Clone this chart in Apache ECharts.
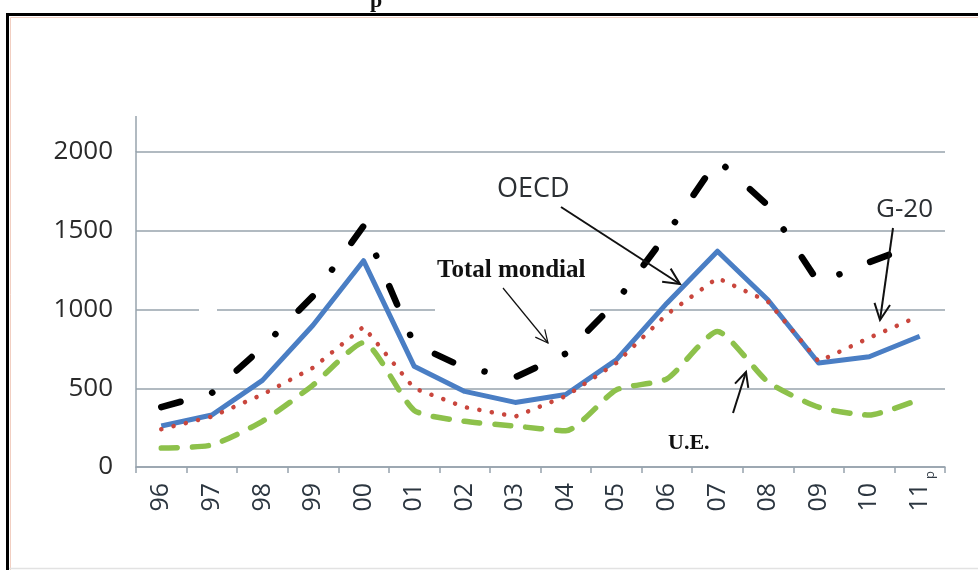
<!DOCTYPE html>
<html>
<head>
<meta charset="utf-8">
<script src="https://cdn.jsdelivr.net/npm/echarts@6/dist/echarts.min.js"></script>
<style>html,body{margin:0;padding:0;background:#fff}#c{width:978px;height:570px}</style>
</head>
<body>
<div id="c"></div>
<script>
const categories = ['96','97','98','99','00','01','02','03','04','05','06','07','08','09','10','11'];
const totalMondial = [380,470,760,1085,1530,780,630,570,720,1050,1480,1950,1660,1170,1300,1420];
const oecd = [260,330,550,900,1310,640,480,410,460,680,1040,1370,1060,660,700,830];
const g20 = [240,320,460,630,890,500,380,320,450,660,970,1200,1050,670,820,960];
const ue = [120,140,290,520,790,360,290,260,230,490,560,860,540,380,330,430];
const yTicks = [0,500,1000,1500,2000];

const axisGray = '#97a3ad';
const chart = echarts.init(document.getElementById('c'), null, {renderer:'canvas'});

function arrow(x1,y1,x2,y2,w,head){
  const a = Math.atan2(y2-y1,x2-x1);
  const s = 0.45;
  const p1 = [x2 - head*Math.cos(a-s), y2 - head*Math.sin(a-s)];
  const p2 = [x2 - head*Math.cos(a+s), y2 - head*Math.sin(a+s)];
  return [
    {type:'line', z:10, shape:{x1:x1,y1:y1,x2:x2,y2:y2}, style:{stroke:'#111',lineWidth:w}},
    {type:'polyline', z:10, shape:{points:[p1,[x2,y2],p2]}, style:{stroke:'#111',lineWidth:w,fill:null}}
  ];
}

const graphics = [
  {type:'polyline', z:0, shape:{points:[[7.5,575],[7.5,14.5],[990,14.5]]}, style:{stroke:'#000',lineWidth:3,fill:null}},
  {type:'polyline', z:0, shape:{points:[[10.5,575],[10.5,17.5],[990,17.5]]}, style:{stroke:'#f2cfc2',lineWidth:1,fill:null}},
  {type:'line', z:0, shape:{x1:9,y1:568.5,x2:978,y2:568.5}, style:{stroke:'#e2e2e2',lineWidth:1.5}},
  {type:'text', z:10, left:370, top:-10, style:{text:'p', font:'bold 22px "Liberation Serif"', fill:'#111'}},
  {type:'line', z:1, shape:{x1:136,y1:116,x2:136,y2:152}, style:{stroke:axisGray,lineWidth:1.5}},
  {type:'rect', z:1, shape:{x:199,y:303,width:18,height:14}, style:{fill:'#fff'}},
  {type:'rect', z:1, shape:{x:435,y:303,width:155,height:14}, style:{fill:'#fff'}},
  {type:'text', z:10, left:497, top:176, style:{text:'OECD', font:'27px "Open Sans"', fill:'#2b2f33'}},
  {type:'text', z:10, left:876, top:197, style:{text:'G-20', font:'26px "Open Sans"', fill:'#2b2f33'}},
  {type:'text', z:10, left:437, top:258, style:{text:'Total mondial', font:'bold 25px "Liberation Serif"', fill:'#111'}},
  {type:'text', z:10, left:668, top:432, style:{text:'U.E.', font:'bold 22px "Liberation Serif"', fill:'#111'}},
  {type:'text', z:10, left:924, top:471, rotation:Math.PI/2, style:{text:'p', font:'13px "Open Sans"', fill:'#333d47'}}
].concat(
  arrow(561,207,680,284,2,18),
  arrow(893,228,880,320,2,18),
  arrow(503,288,548,343,1.2,14),
  arrow(733,413,746,372,2,16)
);

chart.setOption({
  animation:false,
  backgroundColor:'#fff',
  grid:{left:136,right:33,top:152,bottom:103,containLabel:false},
  xAxis:{
    type:'category', data:categories, boundaryGap:true,
    axisLine:{show:true,lineStyle:{color:axisGray,width:1.5}},
    axisTick:{show:true,length:6,lineStyle:{color:axisGray,width:1.5}},
    axisLabel:{rotate:90, margin:16, fontFamily:'Open Sans', fontSize:25, color:'#2c3640', interval:0},
    splitLine:{show:false}
  },
  yAxis:{
    type:'value', min:0, max:2000, interval:500,
    axisLine:{show:true,lineStyle:{color:axisGray,width:1.5}},
    axisTick:{show:false},
    axisLabel:{margin:23, fontFamily:'Open Sans', fontSize:26, color:'#2a2a2a',
      formatter:function(v){ return yTicks.indexOf(v)>=0 ? String(v) : ''; }},
    splitLine:{show:true,lineStyle:{color:axisGray,width:1.5}}
  },
  series:[
    {name:'U.E.', type:'line', data:ue, symbol:'none', smooth:0.2, z:3,
      lineStyle:{color:'#8dc14b', width:5.5, type:[16,15], cap:'round', join:'round'}},
    {name:'G-20', type:'line', data:g20, symbol:'none', z:4,
      lineStyle:{color:'#c9463d', width:4.5, type:[0.1,12.5], cap:'round', join:'round'}},
    {name:'OECD', type:'line', data:oecd, symbol:'none', z:3,
      lineStyle:{color:'#4a7ec4', width:5, type:'solid', join:'round'}},
    {name:'Total mondial', type:'line', data:totalMondial, symbol:'none', z:5,
      lineStyle:{color:'#000', width:6.5, type:[20,33,0.1,33], cap:'round', join:'round'}}
  ],
  graphic:graphics
});
</script>
</body>
</html>
